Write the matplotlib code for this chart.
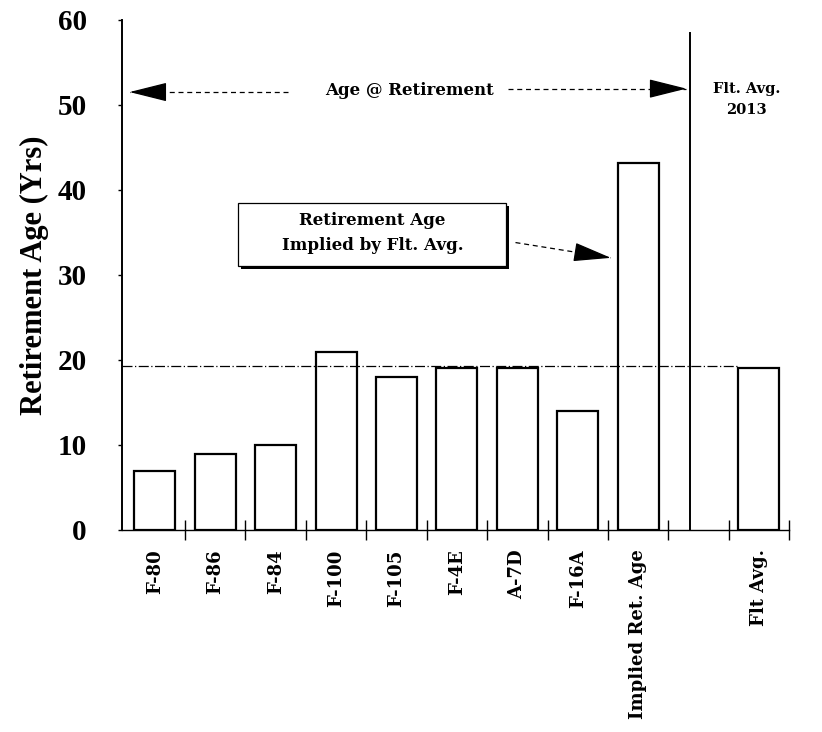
import numpy as np
import matplotlib.pyplot as plt
from matplotlib.patches import Rectangle

# aircraft retirement ages
aircraft = ['F-80', 'F-86', 'F-84', 'F-100', 'F-105', 'F-4E', 'A-7D', 'F-16A',
            'Implied Ret. Age', '', 'Flt Avg.']
ret_age = [6.9, 8.9, 10.0, 20.9, 18.0, 19.1, 19.1, 14.0, 43.2, 0, 19.1]
flt_avg_line = 19.3
y_ticks = [0, 10, 20, 30, 40, 50, 60]

plt.rcParams['font.family'] = ['Liberation Serif', 'DejaVu Serif']
plt.rcParams['font.weight'] = 'bold'
wide = ['DejaVu Serif']   # wider serif for the annotations / category labels

fig = plt.figure(figsize=(8.22, 7.32), dpi=100)
ax = fig.add_axes([0.148, 0.276, 0.812, 0.697])

x = np.arange(len(aircraft))
bars = ax.bar(x, ret_age, width=0.68, color='white', edgecolor='black', linewidth=1.6, zorder=2)
bars[9].set_visible(False)

# flight average reference line
ax.plot([-0.55, 9.65], [flt_avg_line, flt_avg_line], color='black', lw=0.9,
        linestyle=(0, (8, 2, 1, 2)), zorder=3)

# vertical divider
ax.plot([8.86, 8.86], [0, 58.5], color='black', lw=1.4, zorder=3)


def dashed_arrow(x0, y0, x1, y1):
    # dashed shaft, solid filled head at (x1, y1)
    ax.plot([x0, x1], [y0, y1], color='black', lw=0.9, linestyle=(0, (4, 3)), zorder=3)
    # back off ~34 px from the tip so only the head is solid (approx px per unit: 60.4 x, 8.5 y)
    dx, dy = (x0 - x1) * 60.4, (y0 - y1) * 8.5
    d = np.hypot(dx, dy)
    bx, by = x1 + (x0 - x1) * 34 / d, y1 + (y0 - y1) * 34 / d
    ax.annotate('', xy=(x1, y1), xytext=(bx, by),
                arrowprops=dict(arrowstyle='-|>,head_length=2.4,head_width=0.6',
                                color='black', lw=0.9, shrinkA=0, shrinkB=0), zorder=4)


# "Age @ Retirement" arrows
ax.text(4.22, 51.7, 'Age @ Retirement', ha='center', va='center', fontsize=12,
        fontweight='bold', family=wide)
dashed_arrow(2.2, 51.5, -0.42, 51.5)
dashed_arrow(5.85, 51.9, 8.8, 51.9)

ax.text(9.8, 50.6, 'Flt. Avg.\n2013', ha='center', va='center', fontsize=10.5,
        fontweight='bold', linespacing=1.6, family=wide)

# box with drop shadow
ax.add_patch(Rectangle((1.42, 30.7), 4.45, 7.4, facecolor='black', edgecolor='none', zorder=4))
ax.add_patch(Rectangle((1.37, 31.1), 4.45, 7.4, facecolor='white', edgecolor='black',
                       lw=0.9, zorder=5))
ax.text(3.6, 36.4, 'Retirement Age', ha='center', va='center', fontsize=12,
        fontweight='bold', family=wide, zorder=6)
ax.text(3.6, 33.5, 'Implied by Flt. Avg.', ha='center', va='center', fontsize=12,
        fontweight='bold', family=wide, zorder=6)
dashed_arrow(5.97, 33.8, 7.55, 32.0)

# axes styling
ax.set_xlim(-0.55, 10.5)
ax.set_ylim(0, 60)
ax.spines['top'].set_visible(False)
ax.spines['right'].set_visible(False)
ax.spines['left'].set_linewidth(1.4)
ax.spines['bottom'].set_linewidth(1.0)

ax.set_xticks(x)
ax.set_xticklabels(aircraft, rotation=90, fontsize=13, fontweight='bold', family=wide)
ax.tick_params(axis='x', which='major', length=0, pad=14)
ax.set_xticks(np.arange(0.5, 11, 1.0), minor=True)
ax.tick_params(axis='x', which='minor', direction='inout', length=14, width=1.0)

ax.set_yticks(y_ticks)
ax.set_yticklabels([str(t) for t in y_ticks], fontsize=21, fontweight='bold')
ax.tick_params(axis='y', length=3, width=1.0, pad=22)
ax.set_ylabel('Retirement Age (Yrs)', fontsize=22, fontweight='bold', labelpad=6)

fig.savefig('out.png', dpi=100)
